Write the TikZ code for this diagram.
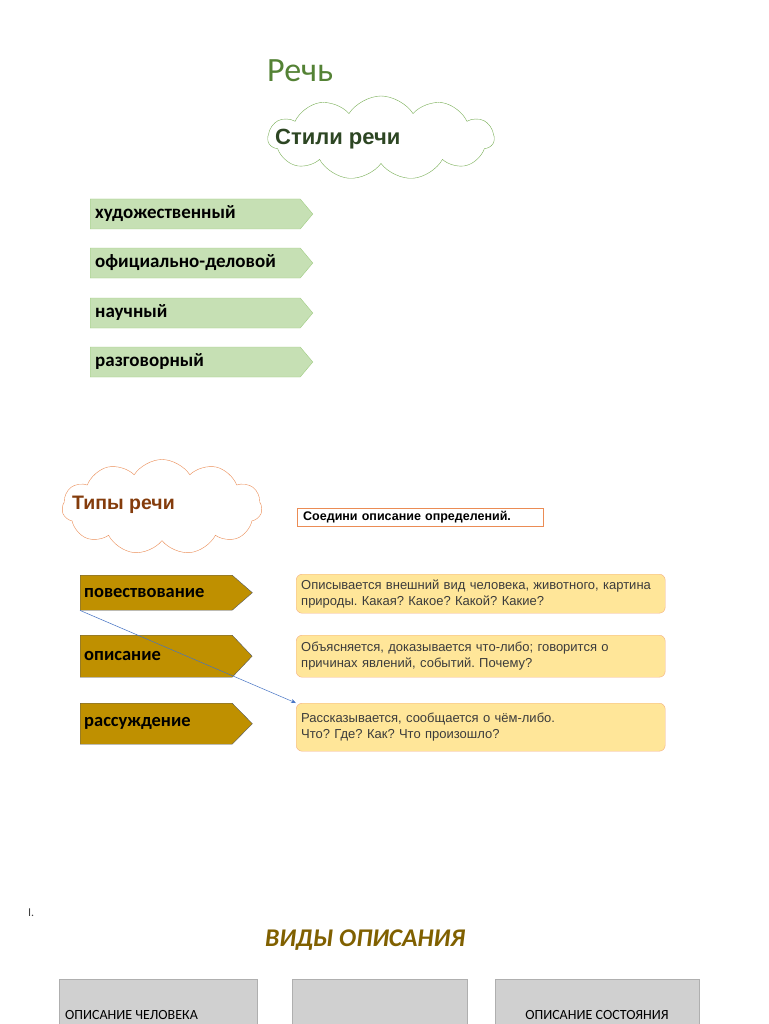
\documentclass[tikz,border=0pt]{standalone}
\usepackage{fontspec}
\setmainfont{Liberation Sans}
\newfontfamily\calib{Carlito}
\usepackage{tikz}
\usetikzlibrary{shapes.symbols,arrows.meta,positioning}
\definecolor{rechgreen}{RGB}{84,130,53}
\definecolor{cloudgreen}{RGB}{120,175,85}
\definecolor{stiltext}{RGB}{45,70,35}
\definecolor{stilfill}{RGB}{198,224,180}
\definecolor{stildraw}{RGB}{160,205,130}
\definecolor{cloudorange}{RGB}{235,140,85}
\definecolor{tiptext}{RGB}{132,60,12}
\definecolor{tipfill}{RGB}{191,144,0}
\definecolor{tipdraw}{RGB}{85,90,100}
\definecolor{defill}{RGB}{255,230,153}
\definecolor{dedraw}{RGB}{244,177,131}
\definecolor{detext}{RGB}{60,60,60}
\definecolor{linkblue}{RGB}{68,114,196}
\definecolor{vidtext}{RGB}{128,96,0}
\definecolor{vidfill}{RGB}{208,208,208}
\definecolor{viddraw}{RGB}{175,175,175}

\begin{document}
\frenchspacing
\begin{tikzpicture}[
x=1pt,y=-1pt,
stilbox/.style={
signal,
signal to=east,
signal pointer angle=100,
draw=stildraw,
fill=stilfill,
anchor=west,
minimum height=30pt,
text width=200pt,
inner xsep=5pt,
inner ysep=0pt,
align=left,
font=\calib\fontsize{19}{21}\selectfont\bfseries
},
tipbox/.style={
signal,
signal to=east,
draw=tipdraw,
fill=tipfill,
anchor=north west,
text width=144pt,
inner xsep=4pt,
inner ysep=0pt,
align=left,
font=\calib\fontsize{18.5}{21}\selectfont\bfseries
},
defbox/.style={
draw=dedraw,
fill=defill,
rounded corners=6pt,
anchor=north west,
minimum width=369pt,
text width=359pt,
inner xsep=5pt,
align=left,
text=detext,
font=\fontsize{13}{16}\selectfont
},
cloudbox/.style={
cloud,
cloud puffs=11,
cloud puff arc=115,
fill=white,
inner sep=0pt
},
vidbox/.style={
draw=viddraw,
fill=vidfill,
anchor=north west,
minimum height=70pt
},
vidlabel/.style={
font=\calib\fontsize{14}{16}\selectfont,
inner sep=0pt
},
link/.style={
-{Stealth[length=5pt,width=4pt]},
draw=linkblue,
line width=0.5pt
}
]
\clip (0,0) rectangle (768,1024);
\fill[white] (0,0) rectangle (768,1024);

% styles of speech
\node[text=rechgreen, font=\calib\fontsize{34}{36}\selectfont, anchor=west, inner sep=0pt] (rech) at (267,71) {Речь};

\node[cloudbox, draw=cloudgreen, minimum width=226pt, minimum height=84pt] (stilcloud) at (381,138) {};
\node[text=stiltext, font=\fontsize{22}{25}\selectfont\bfseries, anchor=west, inner sep=0pt] (stiltitle) at (275,139) {Стили речи};

\node[stilbox] (hud) at (90,214) {художественный};
\node[stilbox] (ofic) at (90,263) {официально-деловой};
\node[stilbox] (nauch) at (90,313) {научный};
\node[stilbox] (razg) at (90,362) {разговорный};

% types of speech
\node[cloudbox, draw=cloudorange, minimum width=200pt, minimum height=95pt] (tipcloud) at (162,507) {};
\node[text=tiptext, font=\fontsize{19.5}{22}\selectfont\bfseries, anchor=west, inner sep=0pt] (tiptitle) at (72,505) {Типы речи};

\node[draw=cloudorange, anchor=west, minimum width=246pt, minimum height=18pt, inner xsep=6pt, inner ysep=0pt, text width=234pt, align=left, font=\fontsize{12.5}{14}\selectfont\bfseries] (zadanie) at (297,517) {Соедини описание определений.};

\node[tipbox, minimum height=35pt, signal pointer angle=82] (pov) at (80,575) {повествование};
\node[tipbox, minimum height=42pt, signal pointer angle=93] (opis) at (80,635) {описание};
\node[tipbox, minimum height=41pt, signal pointer angle=91] (rass) at (80,703) {рассуждение};

\node[defbox, minimum height=39pt] (def1) at (296,574) {Описывается внешний вид человека, животного, картина\\природы. Какая? Какое? Какой? Какие?};
\node[defbox, minimum height=42pt] (def2) at (296,635) {Объясняется, доказывается что-либо; говорится о\\причинах явлений, событий. Почему?};
\node[defbox, minimum height=48pt] (def3) at (296,703) {Рассказывается, сообщается о чём-либо.\\Что? Где? Как? Что произошло?};

\draw[link] (pov.south west) -- (def3.north west);

% kinds of description
\node[font=\calib\fontsize{12}{14}\selectfont, text=black!75, anchor=west, inner sep=0pt] (num) at (28,913) {I.};
\node[text=vidtext, font=\calib\fontsize{25.5}{28}\selectfont\bfseries\itshape] (vidy) at (365,940) {ВИДЫ ОПИСАНИЯ};

\node[vidbox, minimum width=198pt] (vid1) at (59,979) {};
\node[vidbox, minimum width=175pt] (vid2) at (292,979) {};
\node[vidbox, minimum width=204pt] (vid3) at (495,979) {};
\node[vidlabel, anchor=base west] (vid1text) at (65,1019) {ОПИСАНИЕ ЧЕЛОВЕКА};
\node[vidlabel, anchor=base] (vid3text) at (597,1019) {ОПИСАНИЕ СОСТОЯНИЯ};

\end{tikzpicture}
\end{document}
